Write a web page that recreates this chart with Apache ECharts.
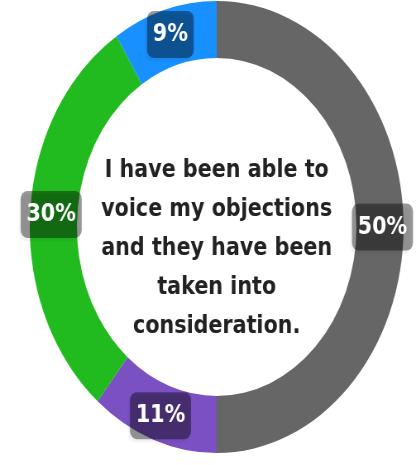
<!DOCTYPE html>
<html>
<head>
<meta charset="utf-8">
<script src="https://cdn.jsdelivr.net/npm/echarts@6/dist/echarts.min.js"></script>
<style>
html,body{margin:0;padding:0;background:#fff;overflow:hidden;width:416px;height:465px;}
#c{width:524px;height:465px;transform:scaleX(0.827);transform-origin:0 0;}
</style>
</head>
<body>
<div id="c"></div>
<script>
var categories = ['Agree', 'Neutral', 'Disagree', 'No answer'];
var values = [50, 11, 30, 9];
var colors = ['#666666', '#7b50c2', '#22bb1f', '#1890ff'];
var centerText = 'I have been able to\nvoice my objections\nand they have been\ntaken into\nconsideration.';

var chart = echarts.init(document.getElementById('c'), null, {renderer: 'canvas'});
chart.setOption({
  animation: false,
  series: [{
    type: 'pie',
    center: [262, 227],
    radius: [169, 226],
    startAngle: 90,
    clockwise: true,
    avoidLabelOverlap: false,
    silent: true,
    data: categories.map(function (c, i) {
      return {name: c, value: values[i], itemStyle: {color: colors[i]}};
    }),
    label: {
      show: true,
      position: 'inside',
      formatter: '{d}%',
      color: '#fff',
      fontFamily: 'DejaVu Sans',
      fontWeight: 'bold',
      fontSize: 25,
      lineHeight: 29,
      backgroundColor: 'rgba(0,0,0,0.4)',
      borderRadius: 8,
      padding: [9, 7],
      shadowColor: 'rgba(0,0,0,0.15)',
      shadowBlur: 2,
      shadowOffsetX: -2,
      shadowOffsetY: 3
    },
    labelLine: {show: false}
  }],
  graphic: [{
    type: 'text',
    x: 262,
    y: 248,
    style: {
      text: centerText,
      fill: '#222',
      font: 'bold 25px "DejaVu Sans"',
      lineHeight: 39,
      align: 'center',
      verticalAlign: 'middle'
    }
  }]
});
</script>
</body>
</html>
